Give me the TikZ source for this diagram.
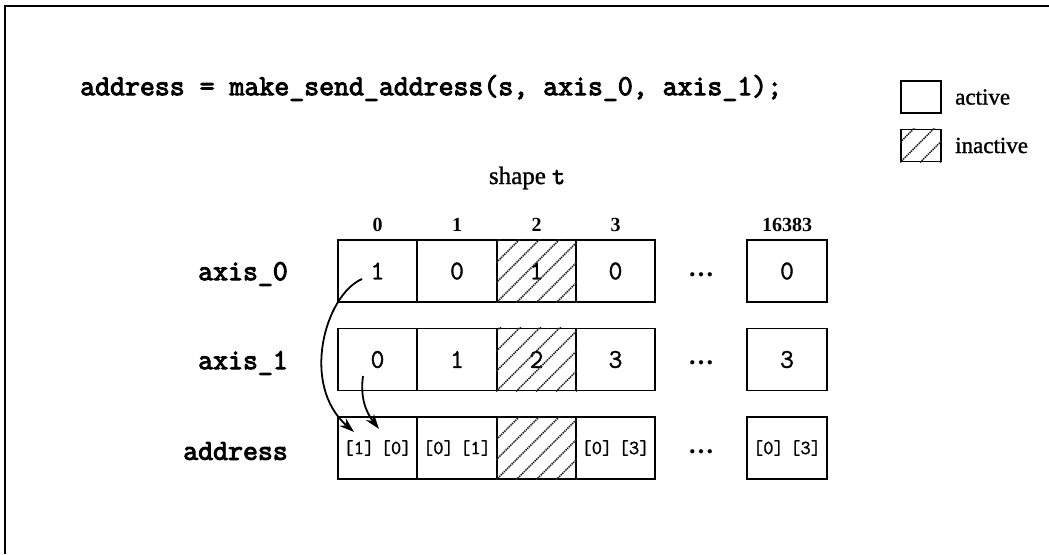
\documentclass[tikz,border=0pt]{standalone}
\usepackage{fontspec}
\setmainfont{Liberation Serif}
\newfontfamily\cellfont{Latin Modern Mono}[FakeBold=1.2]
\newfontfamily\codefont{Latin Modern Mono}[FakeBold=3.4]
\newfontfamily\labfont{Liberation Serif}[FakeBold=1.2]
\usetikzlibrary{arrows.meta,calc}
\newcommand\hatchcell[1]{%
  \begin{scope}
    \clip (#1.south west) rectangle (#1.north east);
    \foreach \k in {-100,-80,...,100} {\draw[hatchline] ($(#1.south west)+(\k,0)$) -- ++(120,-120);}
  \end{scope}}
\begin{document}
\begin{tikzpicture}[x=1pt,y=-1pt,
  frame/.style={line width=2pt},
  cellbox/.style={draw,line width=1.8pt,minimum width=79pt,minimum height=62pt,inner sep=0pt,
    font=\cellfont\fontsize{27}{27}\selectfont},
  addrbox/.style={cellbox,font=\cellfont\fontsize{20}{20}\selectfont},
  lastbox/.style={draw,line width=1.8pt,minimum width=80pt,minimum height=62pt,inner sep=0pt,
    font=\cellfont\fontsize{27}{27}\selectfont},
  hatchline/.style={line width=1.5pt,black!85,dash pattern=on 1.4pt off 0.8pt},
  header/.style={font=\bfseries\fontsize{20}{20}\selectfont,inner sep=0pt},
  rowlabel/.style={font=\codefont\fontsize{29}{29}\selectfont,anchor=east,inner sep=0pt},
  dots/.style={font=\bfseries\fontsize{26}{26}\selectfont,inner sep=0pt,anchor=base},
  legbox/.style={draw,line width=1.8pt,minimum width=40pt,minimum height=32pt,inner sep=0pt},
  legtext/.style={font=\labfont\fontsize{23}{23}\selectfont,anchor=west,inner sep=0pt},
  arr/.style={line width=1.8pt,-{Stealth[length=15pt,width=10pt]}}
]
\useasboundingbox (0,0) rectangle (1049,554);
\draw[frame] (5,554) -- (5,6) -- (1049,6);

% title
\node[font=\codefont\fontsize{29}{29}\selectfont,anchor=west,inner sep=0pt] (title) at (80,88)
  {address = make\_send\_address(s, axis\_0, axis\_1);};

% legend
\node[legbox] (lact) at (921,97) {};
\node[legtext] (tact) at (955,97) {active};
\node[legbox] (linact) at (921,145.5) {};
\node[legtext] (tinact) at (955,145.5) {inactive};
\hatchcell{linact}

% shape t
\node[font=\labfont\fontsize{25}{25}\selectfont,inner sep=0pt] (shp) at (527,178) {shape {\codefont t}};

% headers
\node[header] (h0) at (377.5,225) {0};
\node[header] (h1) at (457,225) {1};
\node[header] (h2) at (536.5,225) {2};
\node[header] (h3) at (615.5,225) {3};
\node[header] (hn) at (787,225) {16383};

% row labels
\node[rowlabel] (lab0) at (288,274) {axis\_0};
\node[rowlabel] (lab1) at (288,363) {axis\_1};
\node[rowlabel] (lab2) at (288,451) {address};

% axis_0 row
\node[cellbox] (c00) at (377.5,271) {1};
\node[cellbox] (c01) at (457,271) {0};
\node[cellbox] (c02) at (536.5,271) {1};
\node[cellbox] (c03) at (615.5,271) {0};
\node[lastbox] (c0n) at (787,271) {0};
\node[dots] (d0) at (701,276) {…};
% axis_1 row
\node[cellbox] (c10) at (377.5,359.5) {0};
\node[cellbox] (c11) at (457,359.5) {1};
\node[cellbox] (c12) at (536.5,359.5) {2};
\node[cellbox] (c13) at (615.5,359.5) {3};
\node[lastbox] (c1n) at (787,359.5) {3};
\node[dots] (d1) at (701,364.5) {…};
% address row
\node[addrbox] (c20) at (377.5,448) {[1]\hspace{-4pt} [0]};
\node[addrbox] (c21) at (457,448) {[0]\hspace{-4pt} [1]};
\node[addrbox] (c22) at (536.5,448) {};
\node[addrbox] (c23) at (615.5,448) {[0]\hspace{-4pt} [3]};
\node[lastbox,font=\cellfont\fontsize{20}{20}\selectfont] (c2n) at (787,448) {[0]\hspace{-4pt} [3]};
\node[dots] (d2) at (701,453) {…};

\hatchcell{c02}
\hatchcell{c12}
\hatchcell{c22}

% arrows
\coordinate (s0) at (362,279);
\coordinate (e0) at (354,432);
\coordinate (s1) at (363,376);
\coordinate (e1) at (379,429);
\draw[arr] (s0) .. controls (325,295) and (300,385) .. (e0);
\draw[arr] (s1) .. controls (360,398) and (366,412) .. (e1);
\end{tikzpicture}
\end{document}
